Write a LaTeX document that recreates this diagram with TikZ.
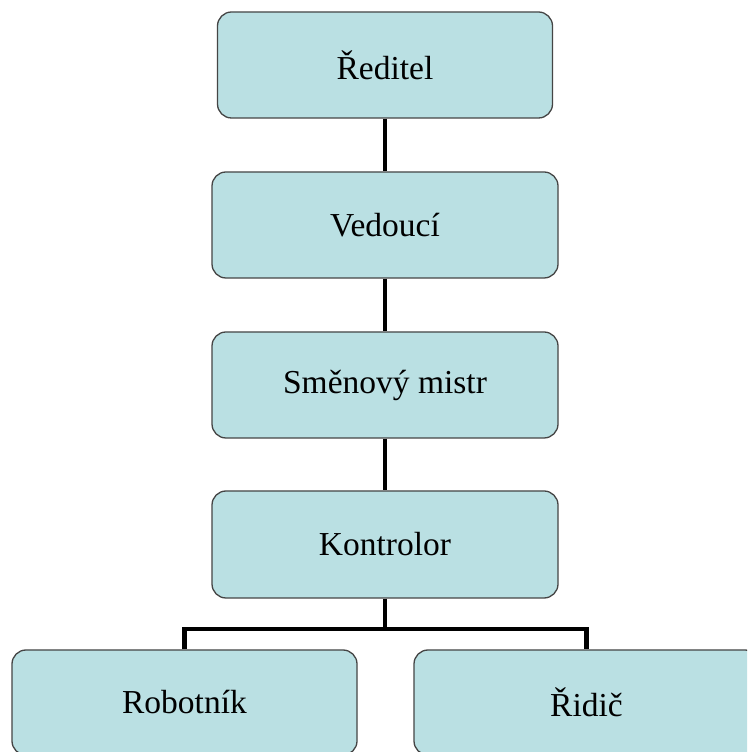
\documentclass[tikz,border=0pt]{standalone}
\usepackage{fontspec}
\setmainfont{Liberation Serif}
\definecolor{boxfill}{HTML}{BAE0E3}
\definecolor{boxline}{HTML}{454545}
\begin{document}
\begin{tikzpicture}[x=1pt,y=1pt,
  orgbox/.style={draw=boxline, line width=1.3pt, fill=boxfill, rounded corners=14pt,
    rectangle, inner sep=0pt, font=\fontsize{33.5}{40}\selectfont, text=black},
  link/.style={draw=black, line width=4.2pt}]
\useasboundingbox (0,0) rectangle (747,752);
\clip (0,0) rectangle (747,752);
\fill[white] (0,0) rectangle (747,752);
\node[orgbox, minimum width=335pt, minimum height=106pt] (b1) at (385,687) {Ředitel};
\node[orgbox, minimum width=346pt, minimum height=106pt] (b2) at (385,527) {Vedoucí};
\node[orgbox, minimum width=346pt, minimum height=106pt] (b3) at (385,367) {Směnový mistr};
\node[orgbox, minimum width=346pt, minimum height=107pt] (b4) at (385,207.5) {Kontrolor};
\node[orgbox, minimum width=345pt, minimum height=105pt] (b5) at (184.5,49.5) {Robotník};
\node[orgbox, minimum width=345pt, minimum height=105pt] (b6) at (586.5,49.5) {Řidič};
\coordinate (bus) at (385,123);
\draw[link] (b1.south) -- (b2.north);
\draw[link] (b2.south) -- (b3.north);
\draw[link] (b3.south) -- (b4.north);
\draw[link] (b4.south) -- (bus);
\draw[link, line join=miter] (b5.north) -- (b5.north |- bus) -- (b6.north |- bus) -- (b6.north);
\end{tikzpicture}
\end{document}
